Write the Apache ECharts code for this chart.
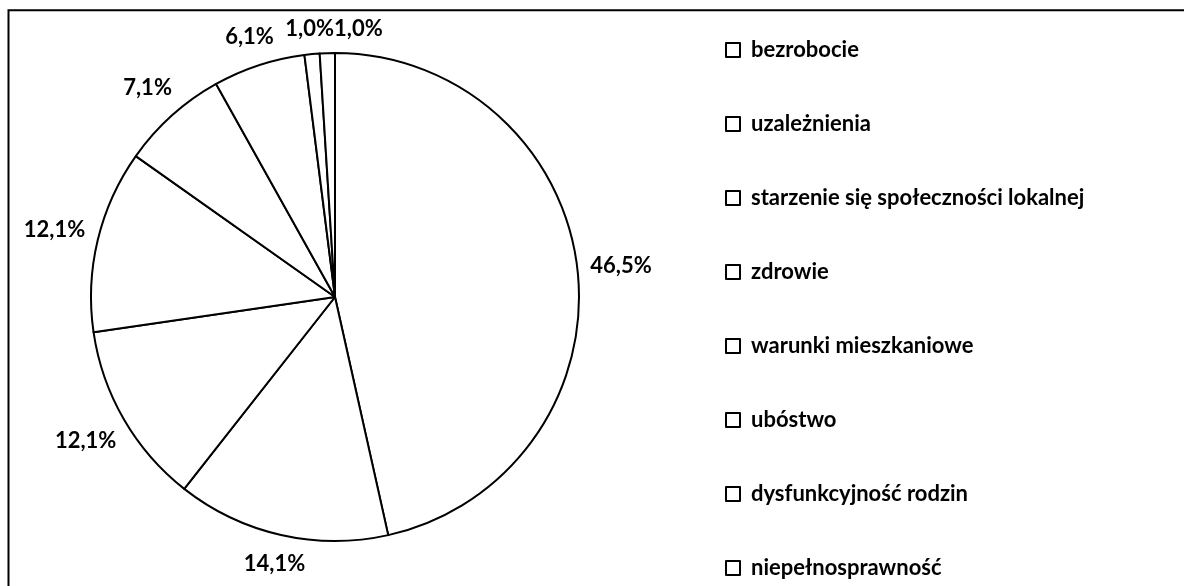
<!DOCTYPE html>
<html>
<head>
<meta charset="utf-8">
<script src="https://cdn.jsdelivr.net/npm/echarts@6/dist/echarts.min.js"></script>
<style>
html, body { margin: 0; padding: 0; background: #fff; }
#main { width: 1184px; height: 586px; }
</style>
</head>
<body>
<div id="main"></div>
<script>
var categories = ['bezrobocie', 'uzależnienia', 'starzenie się społeczności lokalnej', 'zdrowie',
    'warunki mieszkaniowe', 'ubóstwo', 'dysfunkcyjność rodzin', 'niepełnosprawność'];
var percents = [46.5, 14.1, 12.1, 12.1, 7.1, 6.1, 1.0, 1.0];

var CX = 335, CY = 297, R = 244;
var FONT = 'Lato';

var total = 0;
for (var i = 0; i < percents.length; i++) total += percents[i];

// srodek wycinka, kat liczony od gory zgodnie z ruchem wskazowek
function midAngle(idx) {
    var acc = 0;
    for (var i = 0; i < idx; i++) acc += percents[i];
    return (acc + percents[idx] / 2) / total * Math.PI * 2;
}

var pieData = [];
for (var i = 0; i < categories.length; i++) {
    pieData.push({ name: categories[i], value: percents[i] });
}

var chart = echarts.init(document.getElementById('main'), null, { renderer: 'canvas' });

var option = {
    backgroundColor: '#fff',
    animation: false,
    graphic: [{
        type: 'rect',
        shape: { x: 8.5, y: 10.3, width: 1300, height: 700 },
        style: { fill: 'none', stroke: '#000', lineWidth: 2 }
    }],
    legend: {
        orient: 'vertical',
        left: 725,
        top: 39,
        padding: 0,
        itemWidth: 14,
        itemHeight: 14,
        itemGap: 52,
        icon: 'rect',
        selectedMode: false,
        itemStyle: { color: '#fff', borderColor: '#000', borderWidth: 2 },
        textStyle: {
            fontFamily: FONT, fontWeight: 'bold', fontSize: 22, color: '#000',
            lineHeight: 22, padding: [0, 0, 0, 6]
        },
        data: categories
    },
    series: [{
        type: 'pie',
        center: [CX, CY],
        radius: R,
        startAngle: 90,
        clockwise: true,
        avoidLabelOverlap: false,
        itemStyle: { color: '#fff', borderColor: '#000', borderWidth: 2 },
        emphasis: { disabled: true },
        label: {
            show: true,
            position: 'outside',
            padding: [0, 4],
            fontFamily: FONT, fontWeight: 'bold', fontSize: 22, color: '#000',
            formatter: function (p) { return p.value.toFixed(1).replace('.', ',') + '%'; }
        },
        labelLine: { show: false, length: 8, length2: 0 },
        labelLayout: function (p) {
            var a = midAngle(p.dataIndex);
            var dx = Math.sin(a), dy = -Math.cos(a);
            var w = p.labelRect.width, h = p.labelRect.height;
            var d = R + 12 + Math.abs(dx) * w / 2 + Math.abs(dy) * h / 2;
            var res = { x: CX + dx * d, y: CY + dy * d, align: 'center', verticalAlign: 'middle' };
            if (dy < -0.9) res.moveOverlap = 'shiftX';
            return res;
        },
        data: pieData
    }]
};

chart.setOption(option);
</script>
</body>
</html>
